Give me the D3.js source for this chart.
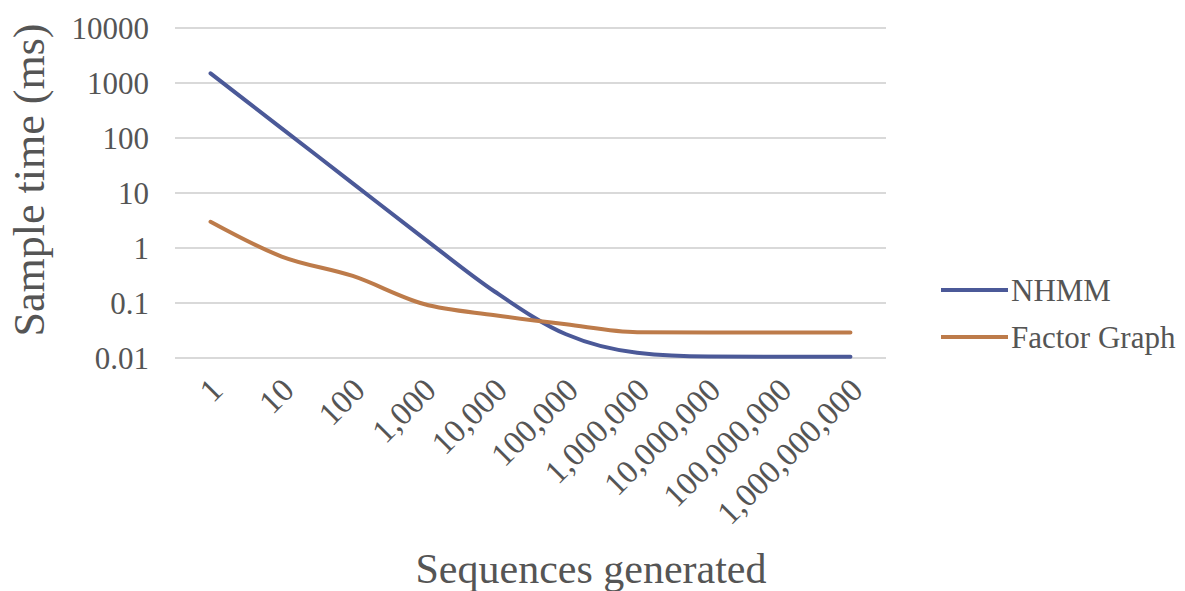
<!DOCTYPE html>
<html lang="en">
<head>
<meta charset="UTF-8">
<title>Sample time</title>
<style>
  body { margin: 0; background: #fff; }
  svg text { font-family: "Liberation Serif", "DejaVu Serif", serif; fill: #555; }
</style>
</head>
<body>
<svg id="chart" width="1185" height="591"></svg>
<script src="https://cdn.jsdelivr.net/npm/d3@7"></script>
<script>
// categories (sequences generated)
const categories = ["1", "10", "100", "1,000", "10,000", "100,000", "1,000,000",
  "10,000,000", "100,000,000", "1,000,000,000"];
// sample time in ms
const nhmm = [1500, 150, 15, 1.5, 0.16, 0.027, 0.0125, 0.0106, 0.0105, 0.0105];
const factorGraph = [3.0, 0.7, 0.31, 0.096, 0.06, 0.041, 0.0295, 0.029, 0.029, 0.029];
const yTicks = [0.01, 0.1, 1, 10, 100, 1000, 10000];
const seriesNames = ["NHMM", "Factor Graph"];
const colors = ["#4b5998", "#bd7b4a"];

const svg = d3.select("#chart");
const plotLeft = 175, plotRight = 886, plotTop = 28, plotBottom = 358;

const x = d3.scaleBand().domain(categories).range([plotLeft, plotRight]);
const y = d3.scaleLog().domain([0.01, 10000]).range([plotBottom, plotTop]);

// gridlines
svg.append("g")
  .selectAll("line")
  .data(yTicks)
  .enter()
  .append("line")
  .attr("x1", plotLeft).attr("x2", plotRight)
  .attr("y1", d => y(d)).attr("y2", d => y(d))
  .attr("stroke", "#d9d9d9")
  .attr("stroke-width", 2);

// y axis labels
const yAxis = d3.axisLeft(y).tickValues(yTicks).tickFormat(d => String(d)).tickSize(0).tickPadding(0);
svg.append("g")
  .attr("transform", "translate(149,0)")
  .call(yAxis)
  .call(g => g.select(".domain").remove())
  .selectAll("text")
  .style("font-size", "31px")
  .attr("dy", "0.35em");

// x axis labels
const xAxis = d3.axisBottom(x).tickSize(0).tickPadding(0);
svg.append("g")
  .attr("transform", "translate(0," + (plotBottom + 26) + ")")
  .call(xAxis)
  .call(g => g.select(".domain").remove())
  .selectAll("text")
  .style("font-size", "33px")
  .attr("text-anchor", "end")
  .attr("dy", "0.35em")
  .attr("transform", "translate(6,0) rotate(-45)");

// series lines
const line = d3.line()
  .x((d, i) => x(categories[i]) + x.bandwidth() / 2)
  .y(d => y(d))
  .curve(d3.curveMonotoneX);

[nhmm, factorGraph].forEach((vals, i) => {
  svg.append("path")
    .datum(vals)
    .attr("fill", "none")
    .attr("stroke", colors[i])
    .attr("stroke-width", 4)
    .attr("stroke-linecap", "round")
    .attr("d", line);
});

// legend
const legend = svg.append("g")
  .selectAll("g")
  .data(seriesNames)
  .enter()
  .append("g")
  .attr("transform", (d, i) => "translate(941," + (290 + i * 47) + ")");
legend.append("line")
  .attr("x1", 0).attr("x2", 67)
  .attr("stroke", (d, i) => colors[i])
  .attr("stroke-width", 4);
legend.append("text")
  .attr("x", 70)
  .attr("dy", "0.35em")
  .style("font-size", "31px")
  .text(d => d);

// axis titles
svg.append("text")
  .attr("transform", "translate(44,180) rotate(-90)")
  .attr("text-anchor", "middle")
  .style("font-size", "44px")
  .text("Sample time (ms)");

svg.append("text")
  .attr("x", 591)
  .attr("y", 583)
  .attr("text-anchor", "middle")
  .style("font-size", "42px")
  .text("Sequences generated");
</script>
</body>
</html>
